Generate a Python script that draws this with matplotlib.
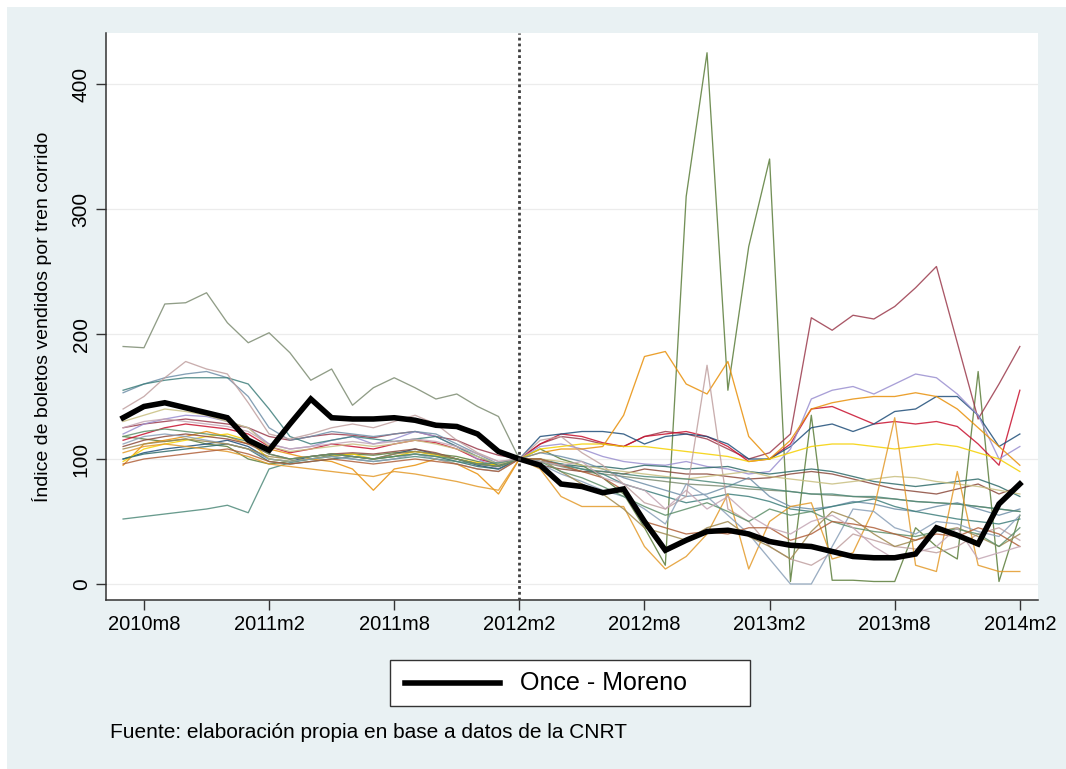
import matplotlib.pyplot as plt
from matplotlib.patches import Rectangle
from matplotlib.lines import Line2D
import numpy as np

plt.rcParams['font.family'] = ['Liberation Sans', 'DejaVu Sans']

# meses 2010m7 .. 2014m2 (indice base 2012m2 = 100)
meses = np.arange(44)
tick_pos = [1, 7, 13, 19, 25, 31, 37, 43]
tick_lab = ['2010m8', '2011m2', '2011m8', '2012m2', '2012m8', '2013m2', '2013m8', '2014m2']
mes_base = 19

once_moreno = [133, 142, 145, 141, 137, 133, 115, 107, 128, 148, 133, 132, 132, 133, 131, 127, 126, 120, 106, 100,
               95, 80, 78, 73, 76, 50, 27, 35, 42, 43, 40, 34, 31, 30, 26, 22, 21, 21, 24, 45, 39, 32, 64, 80]

ramal_01 = [190, 189, 224, 225, 233, 209, 193, 201, 185, 163, 172, 143, 157, 165, 157, 148, 152, 142, 134, 100,
            98, 94, 90, 88, 86, 84, 82, 80, 79, 78, 76, 75, 74, 72, 71, 70, 69, 68, 66, 65, 64, 62, 60, 58]
ramal_02 = [118, 116, 114, 116, 112, 110, 100, 96, 98, 100, 103, 104, 103, 105, 106, 104, 102, 98, 95, 100,
            108, 100, 95, 85, 72, 45, 15, 310, 425, 155, 270, 340, 2, 135, 3, 3, 2, 2, 45, 30, 20, 170, 2, 55]
ramal_03 = [125, 128, 130, 132, 130, 128, 125, 118, 115, 118, 120, 119, 117, 120, 122, 118, 115, 108, 103, 100,
            112, 118, 116, 112, 110, 118, 122, 120, 116, 108, 100, 105, 120, 213, 203, 215, 212, 222, 237, 254, 193, 132, 160, 190]
ramal_04 = [115, 120, 125, 128, 126, 124, 120, 110, 105, 108, 112, 110, 108, 112, 115, 113, 108, 100, 96, 100,
            112, 120, 118, 113, 110, 118, 120, 122, 118, 110, 98, 100, 112, 140, 142, 135, 128, 130, 128, 130, 126, 112, 95, 155]
ramal_05 = [100, 105, 108, 110, 112, 115, 110, 100, 98, 102, 104, 102, 100, 104, 108, 104, 100, 95, 92, 100,
            118, 120, 122, 122, 120, 112, 118, 120, 118, 112, 100, 100, 110, 125, 128, 122, 128, 138, 140, 150, 150, 135, 110, 120]
ramal_06 = [120, 128, 132, 135, 134, 130, 125, 112, 108, 110, 115, 118, 112, 116, 122, 118, 110, 100, 92, 100,
            110, 112, 108, 102, 98, 96, 95, 98, 94, 92, 88, 90, 108, 148, 155, 158, 152, 160, 168, 165, 152, 135, 100, 110]
ramal_07 = [95, 112, 115, 118, 122, 118, 112, 108, 104, 100, 98, 92, 75, 92, 95, 100, 96, 88, 72, 100,
            105, 108, 108, 110, 135, 182, 186, 160, 152, 178, 118, 100, 115, 140, 145, 148, 150, 150, 153, 150, 140, 125, 110, 95]
ramal_08 = [98, 108, 112, 115, 118, 120, 115, 100, 98, 100, 102, 104, 100, 102, 106, 103, 100, 97, 95, 100,
            108, 110, 112, 112, 110, 110, 108, 106, 104, 102, 98, 100, 105, 110, 112, 112, 110, 108, 110, 112, 110, 105, 100, 90]
ramal_09 = [100, 104, 106, 108, 110, 112, 108, 98, 96, 98, 100, 102, 100, 102, 104, 102, 98, 94, 92, 100,
            98, 96, 94, 94, 92, 95, 94, 92, 93, 94, 90, 88, 90, 92, 90, 86, 82, 80, 78, 80, 82, 84, 78, 70]
ramal_10 = [110, 115, 118, 120, 118, 116, 112, 104, 100, 102, 104, 105, 104, 106, 108, 105, 100, 96, 94, 100,
            95, 92, 90, 90, 88, 92, 90, 88, 88, 86, 84, 85, 88, 90, 88, 84, 80, 76, 74, 72, 76, 80, 72, 78]
ramal_11 = [153, 160, 165, 168, 170, 165, 150, 125, 115, 118, 122, 120, 118, 120, 122, 120, 112, 104, 96, 100,
            105, 102, 98, 92, 85, 80, 75, 70, 72, 78, 85, 70, 62, 60, 62, 66, 64, 60, 58, 62, 65, 60, 55, 60]
ramal_12 = [155, 160, 163, 165, 165, 165, 160, 140, 118, 112, 115, 118, 116, 114, 116, 118, 110, 102, 95, 100,
            100, 96, 92, 88, 80, 75, 70, 65, 68, 72, 70, 66, 60, 58, 62, 65, 68, 62, 58, 55, 52, 50, 48, 52]
ramal_13 = [140, 150, 165, 178, 172, 168, 145, 120, 116, 120, 125, 128, 125, 130, 135, 128, 115, 105, 98, 100,
            115, 118, 105, 95, 80, 65, 60, 70, 175, 60, 50, 30, 20, 15, 25, 40, 35, 30, 28, 25, 30, 40, 45, 35]
ramal_14 = [130, 135, 140, 138, 135, 130, 125, 110, 106, 108, 110, 112, 110, 112, 115, 112, 108, 102, 96, 100,
            100, 98, 95, 92, 90, 88, 86, 84, 86, 88, 90, 86, 84, 82, 80, 82, 84, 86, 85, 82, 80, 78, 75, 72]
ramal_15 = [52, 54, 56, 58, 60, 63, 57, 92, 97, 100, 102, 100, 98, 100, 102, 100, 98, 96, 97, 100,
            100, 95, 92, 90, 88, 86, 85, 84, 82, 80, 78, 76, 74, 72, 72, 70, 70, 68, 66, 65, 64, 62, 60, 58]
ramal_16 = [105, 110, 112, 110, 108, 106, 102, 96, 94, 92, 90, 88, 86, 90, 88, 85, 82, 78, 75, 100,
            92, 70, 62, 62, 62, 30, 12, 22, 40, 72, 12, 50, 62, 65, 20, 25, 60, 133, 15, 10, 90, 15, 10, 10]
ramal_17 = [112, 118, 120, 118, 115, 112, 108, 100, 98, 100, 102, 100, 98, 100, 104, 100, 96, 92, 90, 100,
            96, 88, 82, 75, 70, 60, 48, 80, 70, 55, 40, 20, 0, 0, 30, 60, 58, 45, 40, 50, 48, 42, 38, 55]
ramal_18 = [108, 112, 114, 116, 114, 112, 108, 102, 100, 102, 104, 102, 100, 104, 106, 104, 100, 96, 94, 100,
            100, 90, 80, 72, 60, 45, 40, 35, 45, 50, 38, 30, 20, 42, 58, 52, 40, 30, 35, 42, 45, 38, 30, 40]
ramal_19 = [118, 122, 124, 122, 120, 118, 114, 104, 100, 102, 104, 102, 100, 102, 104, 102, 100, 96, 94, 100,
            98, 90, 85, 78, 70, 62, 55, 60, 65, 58, 50, 60, 55, 58, 50, 45, 42, 40, 38, 42, 44, 40, 30, 45]
ramal_20 = [96, 100, 102, 104, 106, 108, 104, 98, 96, 98, 100, 98, 96, 98, 100, 98, 96, 92, 90, 100,
            100, 95, 90, 85, 75, 50, 45, 40, 42, 40, 45, 45, 35, 40, 50, 48, 45, 40, 35, 40, 38, 45, 40, 30]
ramal_21 = [125, 130, 132, 130, 128, 126, 122, 112, 108, 110, 112, 114, 112, 114, 116, 114, 110, 104, 98, 100,
            98, 95, 98, 85, 80, 75, 60, 75, 60, 70, 55, 45, 40, 50, 55, 45, 30, 20, 25, 30, 45, 20, 25, 30]

ramales = [ramal_01, ramal_02, ramal_03, ramal_04, ramal_05, ramal_06, ramal_07, ramal_08, ramal_09, ramal_10,
           ramal_11, ramal_12, ramal_13, ramal_14, ramal_15, ramal_16, ramal_17, ramal_18, ramal_19, ramal_20, ramal_21]
colores = ['#7d8c72', '#5b7d3a', '#9b3a4c', '#c8102e', '#1f4e79', '#9a8fd0', '#e8900a',
           '#f5d000', '#2f6b6a', '#8b4a3c', '#6f8fa8', '#3f7f7c', '#c0a0a0', '#c8bf80',
           '#4f8a7a', '#e39a2a', '#8aa0b8', '#a08a50', '#5e8f6a', '#b0603a', '#c4a6b4']

fig = plt.figure(figsize=(10.66, 7.69), dpi=100)
fig.patches.append(Rectangle((7 / 1066, 0), 1, 1 - 7 / 769, transform=fig.transFigure,
                             facecolor='#e9f1f3', edgecolor='none', zorder=-10))
ax = fig.add_axes([106 / 1066, 1 - 600 / 769, 932 / 1066, 567 / 769])
ax.set_facecolor('white')

for y in [0, 100, 200, 300, 400]:
    ax.axhline(y, color='#ececec', lw=0.9, zorder=0)

for serie, c in zip(ramales, colores):
    ax.plot(meses, serie, color=c, lw=0.95, alpha=0.85, zorder=2)

ax.plot(meses, once_moreno, color='black', lw=4.0, zorder=4, solid_joinstyle='miter')
ax.axvline(mes_base, color='#404040', lw=2.0, linestyle=(0, (1, 1.1)), zorder=5)

ax.set_xlim(-0.82, 43.87)
ax.set_ylim(-12.8, 440.8)
ax.set_xticks(tick_pos)
ax.set_xticklabels(tick_lab, fontsize=14.5)
ax.set_yticks([0, 100, 200, 300, 400])
ax.set_yticklabels(['0', '100', '200', '300', '400'], fontsize=15, rotation=90, va='center')
ax.tick_params(axis='both', direction='out', length=7, width=1, color='#333333', pad=4)
for s in ['top', 'right']:
    ax.spines[s].set_visible(False)
for s in ['left', 'bottom']:
    ax.spines[s].set_color('#333333')
    ax.spines[s].set_linewidth(1.1)
ax.set_ylabel('Índice de boletos vendidos por tren corrido', fontsize=14, labelpad=14)

# leyenda (recuadro a mano, estilo Stata)
fig.patches.append(Rectangle((390 / 1066, 1 - 706 / 769), 360 / 1066, 46 / 769, transform=fig.transFigure,
                             facecolor='white', edgecolor='#333333', lw=1.0, zorder=5))
fig.lines.append(Line2D([405 / 1066, 500 / 1066], [1 - 683 / 769, 1 - 683 / 769], transform=fig.transFigure,
                        color='black', lw=4.0, zorder=6))
fig.text(520 / 1066, 1 - 683 / 769, 'Once - Moreno', fontsize=18, va='center', ha='left', zorder=6)

fig.text(110 / 1066, 1 - 733 / 769, 'Fuente: elaboración propia en base a datos de la CNRT',
         fontsize=15, va='center', ha='left')

fig.savefig('out.png', dpi=100)
